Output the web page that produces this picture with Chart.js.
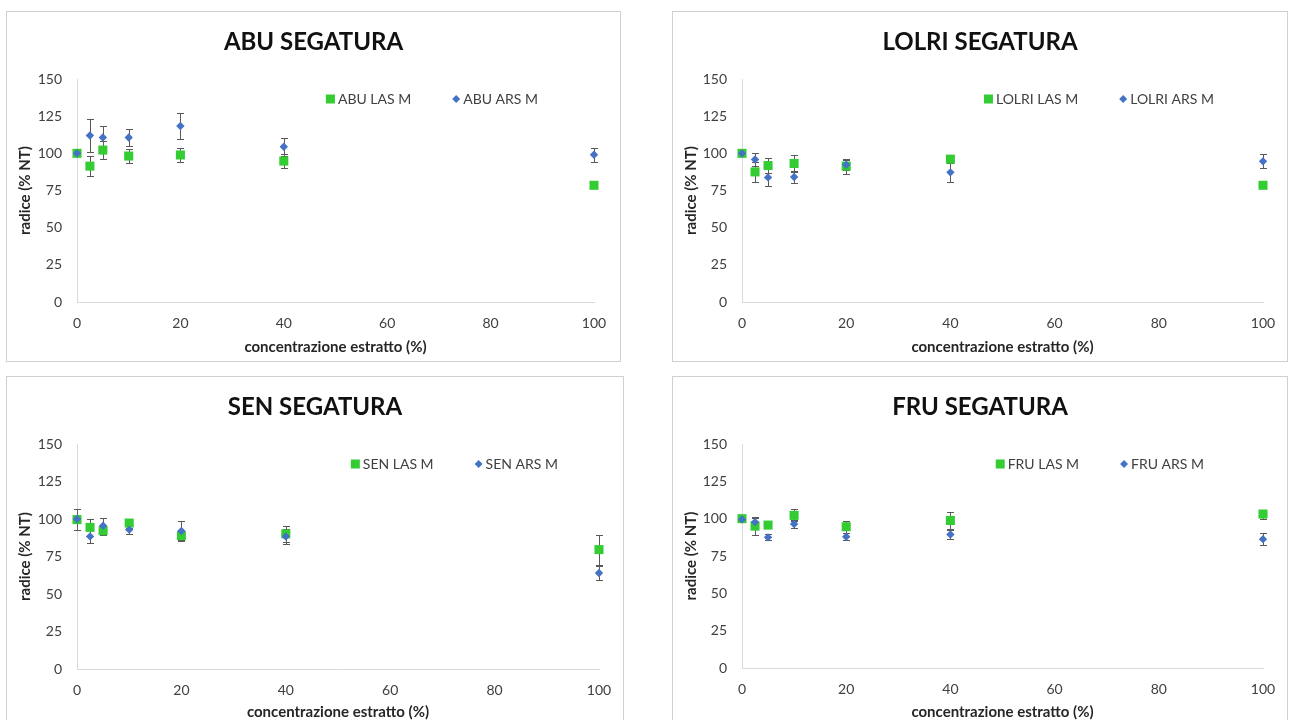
<!DOCTYPE html>
<html>
<head>
<meta charset="utf-8">
<script src="https://cdn.jsdelivr.net/npm/chart.js@4.4.1/dist/chart.umd.min.js"></script>
<style>
  body { margin: 0; background: #fff; width: 1289px; height: 720px; overflow: hidden; position: relative; }
  .panel { position: absolute; border: 1px solid #d0d0d0; box-sizing: border-box; background: #fff; }
  .panel canvas { display: block; }
</style>
</head>
<body>
<div class="panel" style="left:6px;top:11px;width:615px;height:351px"><canvas id="abu" width="613" height="349"></canvas></div>
<div class="panel" style="left:672px;top:11px;width:616px;height:351px"><canvas id="lolri" width="614" height="349"></canvas></div>
<div class="panel" style="left:6px;top:376px;width:618px;height:351px"><canvas id="sen" width="616" height="349"></canvas></div>
<div class="panel" style="left:672px;top:376px;width:616px;height:351px"><canvas id="fru" width="614" height="349"></canvas></div>

<script>
// concentrazione estratto (%)
const conc = [0, 2.5, 5, 10, 20, 40, 100];

const xTicks = [0, 20, 40, 60, 80, 100];
const yTicks = [0, 25, 50, 75, 100, 125, 150];

// ABU
const abuLas = [100, 91.4, 102.2, 98.2, 98.9, 94.8, 78.5];
const abuLasErr = [1, 6.8, 6, 4.5, 5, 4.5, 1];
const abuArs = [100, 112, 110.7, 110.7, 118.4, 104.4, 99];
const abuArsErr = [1, 11, 8, 6, 8.7, 6, 4.5];

// LOLRI
const lolriLas = [100, 87.5, 91.8, 93.2, 91.4, 96.1, 78.5];
const lolriLasErr = [1, 6.8, 5, 5.7, 5, 2, 2];
const lolriArs = [100, 95.9, 83.8, 84.1, 92.3, 87.2, 94.6];
const lolriArsErr = [1, 4.2, 6, 4, 3.5, 6.3, 4.7];

// SEN
const senLas = [99.6, 94.4, 92.2, 97.3, 88.9, 90.1, 79.6];
const senLasErr = [7, 5.5, 3, 3, 2.7, 5.5, 10];
const senArs = [100, 88.4, 95.5, 92.9, 92, 88.3, 64];
const senArsErr = [1, 4.5, 5, 3, 6.4, 5, 4.8];

// FRU
const fruLas = [100, 95, 95.7, 102.2, 94.6, 98.8, 103.1];
const fruLasErr = [1, 5.7, 1.5, 4, 4, 5.8, 3];
const fruArs = [99.5, 97.7, 87.5, 96.4, 87.9, 89.4, 86.3];
const fruArsErr = [1, 3.6, 2, 2.5, 2.5, 3, 4];

const GREEN = '#33cc33';
const BLUE = '#4472c4';
const TEXT = '#404040';

Chart.defaults.font.family = 'Lato, "Open Sans", sans-serif';

// error bars drawn from the scales, under the markers
const errorBars = {
  id: 'errorBars',
  beforeDatasetsDraw(chart) {
    const ctx = chart.ctx;
    const xs = chart.scales.x, ys = chart.scales.y;
    ctx.save();
    ctx.strokeStyle = '#595959';
    ctx.lineWidth = 1;
    chart.data.datasets.forEach(ds => {
      ds.data.forEach((p, i) => {
        const e = ds.errors[i];
        const px = Math.round(xs.getPixelForValue(p.x)) + 0.5;
        const top = Math.round(ys.getPixelForValue(p.y + e)) + 0.5;
        const bot = Math.round(ys.getPixelForValue(p.y - e)) + 0.5;
        ctx.beginPath();
        ctx.moveTo(px, top); ctx.lineTo(px, bot);
        ctx.moveTo(px - 3.5, top); ctx.lineTo(px + 3.5, top);
        ctx.moveTo(px - 3.5, bot); ctx.lineTo(px + 3.5, bot);
        ctx.stroke();
      });
    });
    ctx.restore();
  }
};

// legend inside the plot, like the excel one
const boxLegend = {
  id: 'boxLegend',
  afterDraw(chart, args, opts) {
    const {ctx, chartArea} = chart;
    ctx.save();
    ctx.font = '14px Lato, "Open Sans", sans-serif';
    ctx.textBaseline = 'middle';
    const cy = chartArea.top + 20;
    let right = chartArea.right - opts.right;
    chart.data.datasets.slice().reverse().forEach(ds => {
      const w = ctx.measureText(ds.label).width;
      const textX = right - w;
      ctx.fillStyle = TEXT;
      ctx.fillText(ds.label, textX, cy);
      ctx.fillStyle = ds.backgroundColor;
      let half;
      if (ds.pointStyle === 'rect') {
        half = 4.5;
        const mx = textX - 3 - half;
        ctx.fillRect(mx - half, cy - half, 9, 9);
        right = mx - half - 41;
      } else {
        half = 4;
        const mx = textX - 3 - half;
        ctx.beginPath();
        ctx.moveTo(mx - half, cy); ctx.lineTo(mx, cy - half);
        ctx.lineTo(mx + half, cy); ctx.lineTo(mx, cy + half);
        ctx.closePath();
        ctx.fill();
        right = mx - half - 41;
      }
    });
    ctx.restore();
  }
};

function points(vals) {
  return vals.map((v, i) => ({x: conc[i], y: v}));
}

function makeChart(id, name, las, lasErr, ars, arsErr, lay) {
  new Chart(document.getElementById(id), {
    type: 'scatter',
    data: {
      datasets: [
        {
          label: name + ' LAS M', data: points(las), errors: lasErr, order: 1,
          pointStyle: 'rect', pointRadius: 6.4, pointBorderWidth: 0,
          backgroundColor: GREEN, borderColor: GREEN, clip: false
        },
        {
          label: name + ' ARS M', data: points(ars), errors: arsErr, order: 0,
          pointStyle: 'rectRot', pointRadius: 4.2, pointBorderWidth: 0,
          backgroundColor: BLUE, borderColor: BLUE, clip: false
        }
      ]
    },
    options: {
      responsive: false,
      animation: false,
      layout: { padding: 0 },
      plugins: {
        legend: { display: false },
        tooltip: { enabled: false },
        title: {
          display: true,
          text: name + ' SEGATURA',
          color: '#111',
          font: { size: 24, weight: 'bold' },
          padding: { top: 16, bottom: 22.2 }
        },
        boxLegend: { right: lay.legendRight }
      },
      scales: {
        x: {
          type: 'linear', min: 0, max: 100,
          afterBuildTicks: s => { s.ticks = xTicks.map(v => ({value: v})); },
          afterFit: s => { s.height = lay.xHeight; s.paddingRight = lay.rightPad; },
          grid: { display: false, drawTicks: false },
          border: { display: true, color: '#d9d9d9', width: 1 },
          ticks: { color: TEXT, font: { size: 14 }, padding: 13, maxRotation: 0 },
          title: {
            display: true, text: 'concentrazione estratto (%)', color: '#262626',
            font: { size: 15, weight: 'bold' }, padding: { top: 0, bottom: 5 }
          }
        },
        y: {
          type: 'linear', min: 0, max: 150,
          afterBuildTicks: s => { s.ticks = yTicks.map(v => ({value: v})); },
          afterFit: s => { s.width = lay.yWidth; },
          grid: { display: false, drawTicks: false },
          border: { display: true, color: '#d9d9d9', width: 1 },
          ticks: { color: TEXT, font: { size: 14 }, padding: 15 },
          title: {
            display: true, text: 'radice (% NT)', color: '#262626',
            font: { size: 15, weight: 'bold' }, padding: { top: 9, bottom: 0 }
          }
        }
      }
    },
    plugins: [errorBars, boxLegend]
  });
}

makeChart('abu', 'ABU', abuLas, abuLasErr, abuArs, abuArsErr,
  { yWidth: 70, rightPad: 26, xHeight: 59, legendRight: 56 });
makeChart('lolri', 'LOLRI', lolriLas, lolriLasErr, lolriArs, lolriArsErr,
  { yWidth: 69, rightPad: 24, xHeight: 59, legendRight: 49 });
makeChart('sen', 'SEN', senLas, senLasErr, senArs, senArsErr,
  { yWidth: 70, rightPad: 24, xHeight: 57, legendRight: 41 });
makeChart('fru', 'FRU', fruLas, fruLasErr, fruArs, fruArsErr,
  { yWidth: 69, rightPad: 24, xHeight: 58, legendRight: 59 });
</script>
</body>
</html>
